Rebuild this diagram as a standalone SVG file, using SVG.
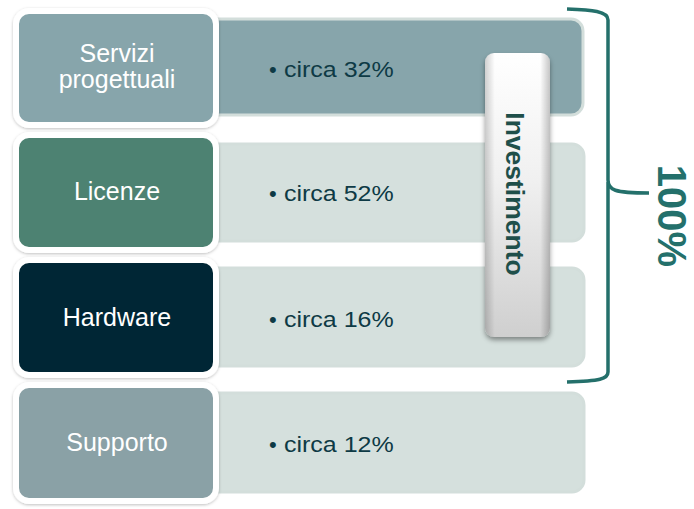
<svg xmlns="http://www.w3.org/2000/svg" width="694" height="509" viewBox="0 0 694 509">
<defs>
<filter id="sh" x="-10%" y="-10%" width="120%" height="120%"><feDropShadow dx="0" dy="1" stdDeviation="1.5" flood-color="#000" flood-opacity="0.25"/></filter>
<filter id="sh2" x="-30%" y="-10%" width="160%" height="120%"><feDropShadow dx="0" dy="3" stdDeviation="2.5" flood-color="#000" flood-opacity="0.4"/></filter>
<linearGradient id="tab" x1="0" y1="0" x2="0" y2="1">
<stop offset="0" stop-color="#ffffff"/><stop offset="0.45" stop-color="#f0f0f0"/><stop offset="1" stop-color="#cfcfcf"/>
</linearGradient>
<linearGradient id="tabh" x1="0" y1="0" x2="1" y2="0">
<stop offset="0" stop-color="#000" stop-opacity="0.18"/><stop offset="0.15" stop-color="#000" stop-opacity="0"/><stop offset="0.85" stop-color="#000" stop-opacity="0"/><stop offset="1" stop-color="#000" stop-opacity="0.22"/>
</linearGradient>
</defs>
<style>
.lbl{font-family:"Liberation Sans",Arial,sans-serif;font-size:25px;fill:#ffffff;text-anchor:middle}
.pct{font-family:"Liberation Sans",Arial,sans-serif;font-size:25px;fill:#0e3a45}
.bul{font-family:"Liberation Sans",Arial,sans-serif;font-size:22px;fill:#0e3a45}
.bar{stroke:#d3dedb;stroke-width:3}
.box{stroke:#ffffff;stroke-width:6}
</style>
<g id="bars">
<rect class="bar" x="200" y="19" width="383" height="96" rx="12" fill="#87a5ab"/>
<rect class="bar" x="200" y="144" width="384" height="97" rx="12" fill="#d5e0dd"/>
<rect class="bar" x="200" y="268" width="384" height="98" rx="12" fill="#d5e0dd"/>
<rect class="bar" x="200" y="393" width="384" height="99" rx="12" fill="#d5e0dd"/>
</g>
<g id="n1"><rect class="box" x="16" y="11" width="200" height="114" rx="13" fill="#87a5ab" filter="url(#sh)"/>
<text class="lbl" x="117" y="62">Servizi</text><text class="lbl" x="117" y="88">progettuali</text>
<text class="bul" x="269" y="77">•</text>
<text class="pct" transform="translate(284,77) scale(1,0.9)">circa 32%</text></g>
<g id="n2"><rect class="box" x="16" y="135" width="200" height="115" rx="13" fill="#4d8272" filter="url(#sh)"/>
<text class="lbl" x="117" y="200">Licenze</text>
<text class="bul" x="269" y="201">•</text>
<text class="pct" transform="translate(284,201) scale(1,0.9)">circa 52%</text></g>
<g id="n3"><rect class="box" x="16" y="260" width="200" height="115" rx="13" fill="#052834" filter="url(#sh)"/>
<text class="lbl" x="117" y="326">Hardware</text>
<text class="bul" x="269" y="327">•</text>
<text class="pct" transform="translate(284,327) scale(1,0.9)">circa 16%</text></g>
<g id="n4"><rect class="box" x="16" y="385" width="200" height="116" rx="13" fill="#8aa1a6" filter="url(#sh)"/>
<text class="lbl" x="117" y="451">Supporto</text>
<text class="bul" x="269" y="452">•</text>
<text class="pct" transform="translate(284,452) scale(1,0.9)">circa 12%</text></g>
<g id="tab">
<rect x="485" y="53" width="65" height="284" rx="9" fill="url(#tab)" filter="url(#sh2)"/>
<rect x="485" y="53" width="65" height="284" rx="9" fill="url(#tabh)"/>
<text x="0" y="0" transform="translate(506,194) rotate(90)" font-family="Liberation Sans,Arial,sans-serif" font-size="26.5" font-weight="bold" fill="#1f4f4a" text-anchor="middle">Investimento</text>
</g>
<g id="connectors">
<path d="M567,9 C592,10 608,11 608,20 L608,180 C608,190 614,193 649,193 M608,182 C608,190 608,193 608,200 L608,372 C608,379 600,381 567,382" fill="none" stroke="#24706b" stroke-width="3.5"/>
</g>
<g id="total">
<text x="0" y="0" transform="translate(658,216) rotate(90)" font-family="Liberation Sans,Arial,sans-serif" font-size="40" font-weight="bold" fill="#24706b" text-anchor="middle">100%</text>
</g>
</svg>
